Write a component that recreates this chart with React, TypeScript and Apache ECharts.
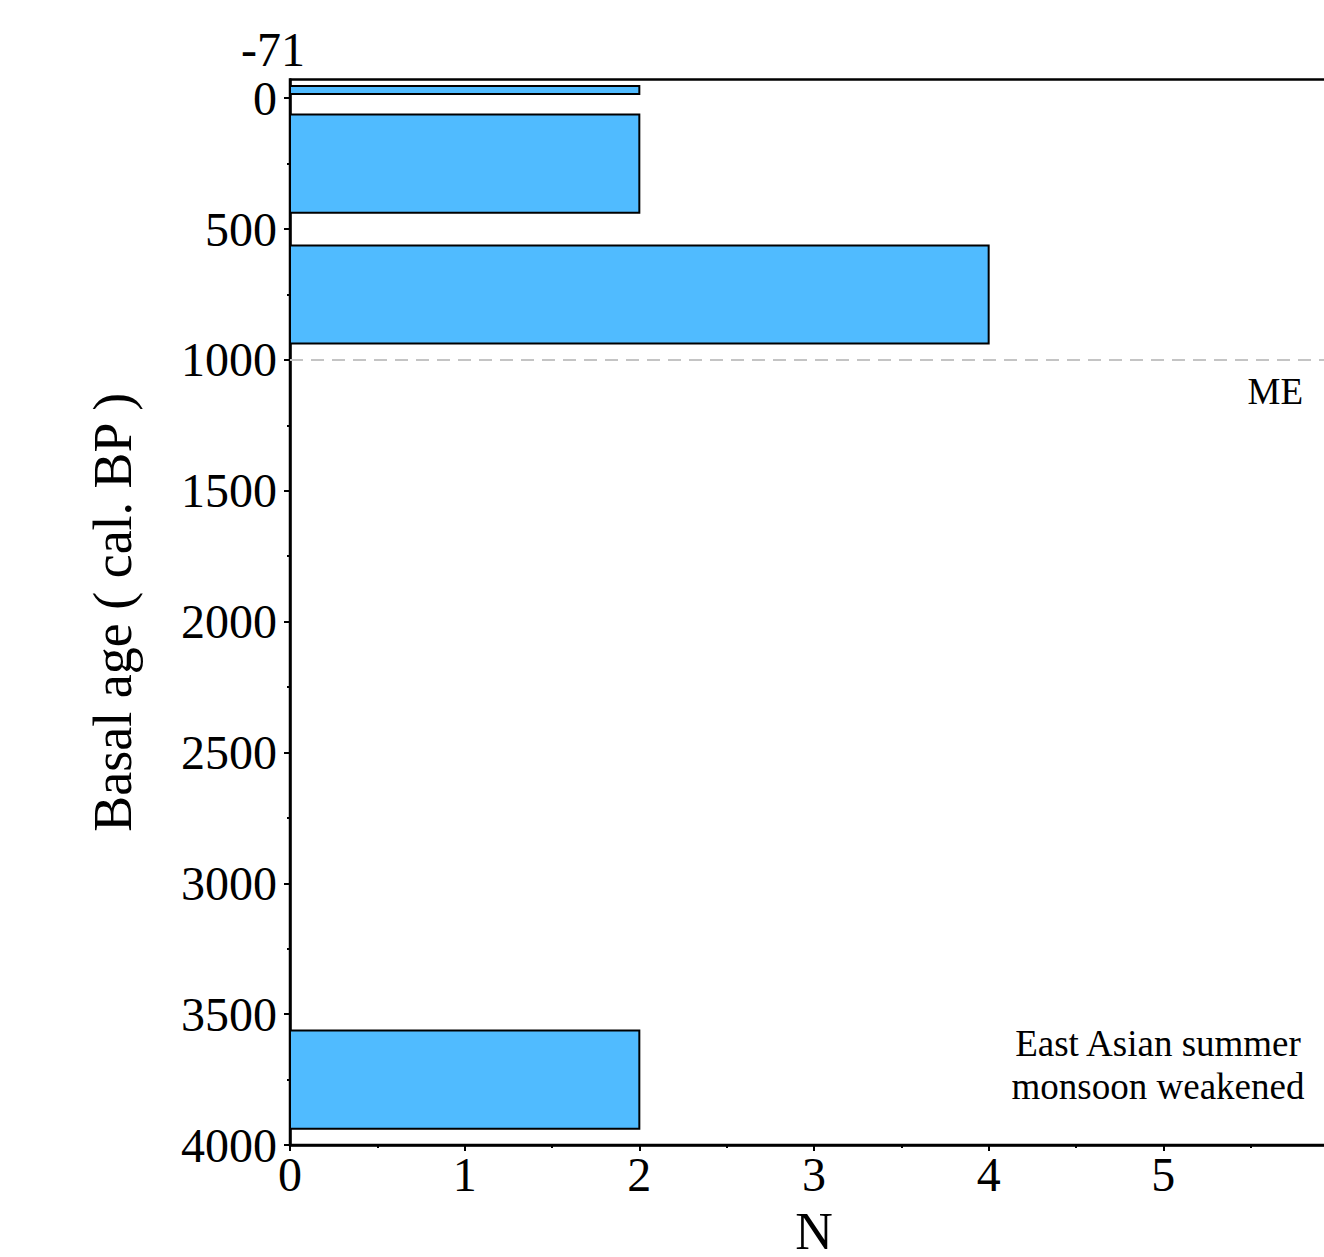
import React, { useEffect, useRef } from "react";
import * as echarts from "echarts";

// Histogram bins of basal ages (cal. BP): bar top/bottom edges and site counts
const binTop = [-47, 62.5, 562.5, 3562.5];
const binBottom = [-16, 437.5, 937.5, 3937.5];
const counts = [2, 2, 4, 2];

// Axis ranges and tick values
const ageMin = -71;
const ageMax = 4000;
const ageMajorTicks = [0, 500, 1000, 1500, 2000, 2500, 3000, 3500, 4000];
const ageMinorTicks = [250, 750, 1250, 1750, 2250, 2750, 3250, 3750];
const nMax = 6;
const nMajorTicks = [0, 1, 2, 3, 4, 5];
const nMinorTicks = [0.5, 1.5, 2.5, 3.5, 4.5, 5.5];

// Reference event line
const meAge = 1000;

const FONT = "Liberation Serif";
const BAR_FILL = "#50BBFF";

export default function App() {
  const ref = useRef<HTMLDivElement>(null);

  useEffect(() => {
    document.body.style.margin = "0";
    if (!ref.current) return;
    const chart = echarts.init(ref.current, undefined, { renderer: "svg" });

    const gridBox = {
      left: 290,
      top: 79.6,
      right: -14,
      bottom: 112,
      containLabel: false,
      outerBoundsMode: "none",
    };
    const binData = counts.map((n, i) => [n, binTop[i], binBottom[i]]);
    const plain = (v: number) => String(v);

    chart.setOption({
      animation: false,
      backgroundColor: "#fff",
      textStyle: { fontFamily: FONT, color: "#000" },
      grid: [
        { ...gridBox, show: true, borderColor: "#000", borderWidth: 2.5, backgroundColor: "transparent" },
        { ...gridBox, show: false },
      ],
      xAxis: [
        {
          type: "value",
          gridIndex: 0,
          min: 0,
          max: nMax,
          position: "bottom",
          name: "N",
          nameLocation: "middle",
          nameGap: 67,
          nameTextStyle: { fontFamily: FONT, fontSize: 52, lineHeight: 38, color: "#000" },
          axisLine: { show: true, onZero: false, lineStyle: { color: "#000", width: 2.5 } },
          axisTick: { show: true, customValues: nMajorTicks, length: 6, lineStyle: { color: "#000", width: 2 } },
          axisLabel: { customValues: nMajorTicks, formatter: plain, fontFamily: FONT, fontSize: 48, color: "#000", margin: 5 },
          splitLine: { show: false },
        },
        {
          type: "value",
          gridIndex: 1,
          min: 0,
          max: nMax,
          position: "bottom",
          axisLine: { show: false, onZero: false },
          axisTick: { show: true, customValues: nMinorTicks, length: 3, lineStyle: { color: "#000", width: 2 } },
          axisLabel: { show: false },
          splitLine: { show: false },
        },
      ],
      yAxis: [
        {
          type: "value",
          gridIndex: 0,
          inverse: true,
          min: ageMin,
          max: ageMax,
          position: "left",
          name: "Basal age ( cal. BP )",
          nameLocation: "middle",
          nameGap: 150,
          nameRotate: 90,
          nameTextStyle: { fontFamily: FONT, fontSize: 54, color: "#000" },
          axisLine: { show: true, onZero: false, lineStyle: { color: "#000", width: 2.5 } },
          axisTick: { show: true, customValues: ageMajorTicks, length: 6, lineStyle: { color: "#000", width: 2 } },
          axisLabel: { customValues: ageMajorTicks, formatter: plain, fontFamily: FONT, fontSize: 48, color: "#000", margin: 13 },
          splitLine: { show: false },
        },
        {
          type: "value",
          gridIndex: 1,
          inverse: true,
          min: ageMin,
          max: ageMax,
          position: "left",
          axisLine: { show: false, onZero: false },
          axisTick: { show: true, customValues: ageMinorTicks, length: 3, lineStyle: { color: "#000", width: 2 } },
          axisLabel: { show: false },
          splitLine: { show: false },
        },
      ],
      series: [
        {
          type: "custom",
          xAxisIndex: 0,
          yAxisIndex: 0,
          silent: true,
          clip: true,
          encode: { x: 0, y: [1, 2] },
          data: binData,
          renderItem: (_params: any, api: any) => {
            const n = api.value(0);
            const top = api.value(1);
            const bottom = api.value(2);
            const p0 = api.coord([0, top]);
            const p1 = api.coord([n, bottom]);
            return {
              type: "rect",
              shape: {
                x: p0[0],
                y: Math.min(p0[1], p1[1]),
                width: p1[0] - p0[0],
                height: Math.abs(p1[1] - p0[1]),
              },
              style: { fill: BAR_FILL, stroke: "#000", lineWidth: 2 },
            };
          },
        },
        {
          type: "line",
          xAxisIndex: 0,
          yAxisIndex: 0,
          silent: true,
          data: [],
          markLine: {
            silent: true,
            symbol: "none",
            label: { show: false },
            lineStyle: { color: "#c4c4c4", type: [13, 8], width: 2 },
            data: [{ yAxis: meAge }],
          },
        },
      ],
      graphic: [
        {
          type: "text",
          x: 273,
          y: 49,
          style: {
            text: "-71",
            fontFamily: FONT,
            fontSize: 48,
            fill: "#000",
            textAlign: "center",
            textVerticalAlign: "middle",
          },
        },
        {
          type: "text",
          x: 1303,
          y: 391,
          style: {
            text: "ME",
            fontFamily: FONT,
            fontSize: 37,
            fill: "#000",
            textAlign: "right",
            textVerticalAlign: "middle",
          },
        },
        {
          type: "text",
          x: 1158,
          y: 1064.5,
          style: {
            text: "East Asian summer\nmonsoon weakened",
            fontFamily: FONT,
            fontSize: 37,
            lineHeight: 43,
            fill: "#000",
            textAlign: "center",
            textVerticalAlign: "middle",
          },
        },
      ],
    });

    return () => {
      chart.dispose();
    };
  }, []);

  return <div ref={ref} style={{ width: 1324, height: 1257 }} />;
}
